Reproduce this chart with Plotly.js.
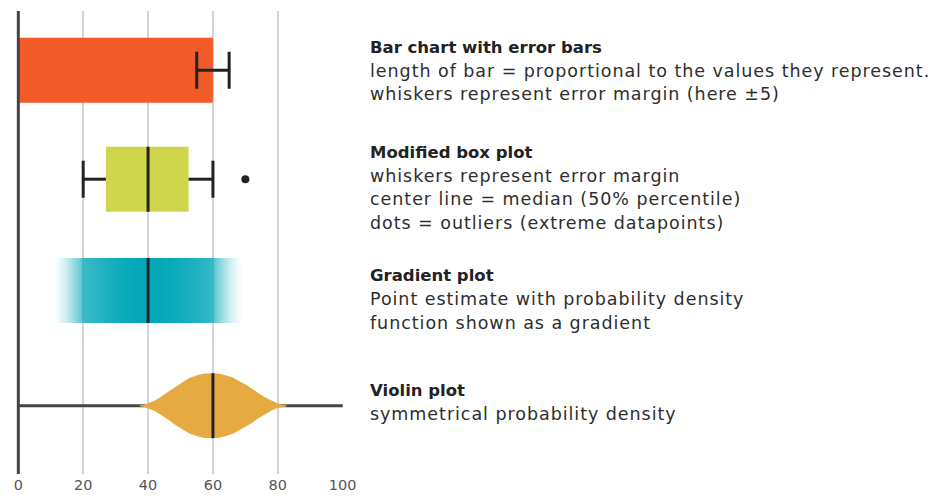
<!DOCTYPE html>
<html><head><meta charset="utf-8">
<script src="https://cdn.plot.ly/plotly-3.0.1.min.js"></script>
<style>html,body{margin:0;padding:0;background:#fff}#chart{width:947px;height:501px}</style>
</head><body><div id="chart"></div>
<script>
// ---- data ----
const barValue = 60;
const barError = 5;
const boxLowerWhisker = 20;
const boxQ1 = 27;
const boxMedian = 40;
const boxQ3 = 52.5;
const boxUpperWhisker = 60;
const boxOutliers = [70];
const gradientX = [11, 12, 14, 16, 18, 19.5, 20.5, 24, 28, 32, 36, 40, 44, 48, 52, 56, 59.5, 60.5, 62, 64, 66, 68, 69];
const gradientDensity = [0, 0.04, 0.15, 0.3, 0.48, 0.62, 0.78, 0.84, 0.9, 0.96, 0.99, 1, 0.99, 0.96, 0.92, 0.86, 0.8, 0.64, 0.48, 0.3, 0.15, 0.05, 0];
const gradientEstimate = 40;
const violinX = [37.4, 39, 40.5, 42.1, 43.6, 45.1, 46.7, 48.2, 49.8, 51.3, 52.9, 54.4, 55.9, 57.5, 59.3, 61.2, 62.7, 64.3, 65.8, 67.3, 68.9, 70.4, 72, 73.5, 75, 76.6, 78.1, 79.7, 81.2, 82.7];
const violinDensity = [0.015, 0.04, 0.10, 0.16, 0.25, 0.35, 0.46, 0.58, 0.68, 0.77, 0.86, 0.92, 0.96, 0.99, 1.0, 0.99, 0.97, 0.93, 0.88, 0.80, 0.72, 0.63, 0.53, 0.42, 0.32, 0.23, 0.15, 0.08, 0.04, 0.015];
const violinMedian = 60;
const violinRange = [0, 100];
const tickVals = [0, 20, 40, 60, 80, 100];
const tickText = ['0', '20', '40', '60', '80', '100'];
const titles = ['Bar chart with error bars', 'Modified box plot', 'Gradient plot', 'Violin plot'];
const descriptions = [
  ['length of bar = proportional to the values they represent.', 'whiskers represent error margin (here ±5)'],
  ['whiskers represent error margin', 'center line = median (50% percentile)', 'dots = outliers (extreme datapoints)'],
  ['Point estimate with probability density', 'function shown as a gradient'],
  ['symmetrical probability density']
];

// ---- layout constants (pixel-like y units: 1 unit = 1px) ----
const PLOT_H = 463;
const rowY = [403.8, 294.8, 183.5, 68.3];
const halfH = 32.5;
const capHalf = 18.5;
const dark = '#222';
const textBaseline = [53, 158.3, 281.7, 396.7]; // px from top
const lineStep = 23.5;
const X_RANGE = [-0.1, 100.1];
const PX_PER_UNIT = 3.245;

const traces = [];
// gradient plot
const gxMin = Math.min(...gradientX), gxMax = Math.max(...gradientX);
traces.push({
  type: 'scatter', mode: 'lines', hoverinfo: 'skip',
  x: [gxMin, gxMax, gxMax, gxMin, gxMin],
  y: [rowY[2] - halfH, rowY[2] - halfH, rowY[2] + halfH, rowY[2] + halfH, rowY[2] - halfH],
  fill: 'toself', line: {width: 0, color: 'rgba(0,0,0,0)'},
  fillgradient: {
    type: 'horizontal',
    colorscale: gradientX.map((v, i) => [(v - gxMin) / (gxMax - gxMin), 'rgba(2,167,184,' + gradientDensity[i] + ')'])
  }
});
// bar with error bar
traces.push({
  type: 'bar', orientation: 'h', x: [barValue], y: [rowY[0]], width: 2 * halfH,
  marker: {color: '#f15a29', line: {width: 0}},
  error_x: {type: 'data', array: [barError], symmetric: true, color: dark, thickness: 3, width: capHalf}
});
// box body
traces.push({
  type: 'bar', orientation: 'h', base: [boxQ1], x: [boxQ3 - boxQ1], y: [rowY[1]], width: 2 * halfH,
  marker: {color: '#d0d64b', line: {width: 0}}
});
// whiskers
traces.push({
  type: 'scatter', mode: 'lines', x: [boxLowerWhisker, boxQ1, null, boxQ3, boxUpperWhisker],
  y: [rowY[1], rowY[1], null, rowY[1], rowY[1]], line: {color: dark, width: 3}
});
// whisker caps
traces.push({
  type: 'scatter', mode: 'markers', x: [boxLowerWhisker, boxUpperWhisker], y: [rowY[1], rowY[1]],
  marker: {size: 1, color: 'rgba(0,0,0,0)'},
  error_y: {type: 'constant', value: capHalf, color: dark, thickness: 3, width: 0}
});
// medians (box, gradient estimate)
traces.push({
  type: 'scatter', mode: 'markers', x: [boxMedian, gradientEstimate], y: [rowY[1], rowY[2]],
  marker: {size: 1, color: 'rgba(0,0,0,0)'},
  error_y: {type: 'constant', value: halfH, color: dark, thickness: 3, width: 0}
});
// outliers
traces.push({
  type: 'scatter', mode: 'markers', x: boxOutliers, y: boxOutliers.map(() => rowY[1]),
  marker: {size: 8, color: dark}
});
// violin base line
traces.push({
  type: 'scatter', mode: 'lines', x: violinRange, y: [rowY[3], rowY[3]], line: {color: '#444', width: 3}
});
// violin body
traces.push({
  type: 'scatter', mode: 'lines', fill: 'toself', fillcolor: '#e5ab42', line: {width: 0, color: '#e5ab42'},
  x: violinX.concat(violinX.slice().reverse()),
  y: violinDensity.map(d => rowY[3] + d * halfH).concat(violinDensity.slice().reverse().map(d => rowY[3] - d * halfH))
});
traces.push({
  type: 'scatter', mode: 'markers', x: [violinMedian], y: [rowY[3]],
  marker: {size: 1, color: 'rgba(0,0,0,0)'},
  error_y: {type: 'constant', value: halfH, color: dark, thickness: 3, width: 0}
});

const annotations = [];
const plotTop = 11, plotBottom = 474;
function pxToY(px) { return plotBottom - px; }
titles.forEach((t, i) => {
  const lines = [t].concat(descriptions[i]);
  lines.forEach((ln, j) => {
    const base = textBaseline[i] + j * lineStep;
    annotations.push({
      xref: 'paper', yref: 'y', x: 1.0755, y: pxToY(base - 6), xanchor: 'left', yanchor: 'middle',
      showarrow: false,
      text: j === 0 ? '<b>' + ln + '</b>' : '<span style="letter-spacing:0.95px">' + ln + '</span>',
      font: j === 0 ? {family: 'DejaVu Sans', size: 16.5, color: '#222'} : {family: 'DejaVu Sans', size: 17.5, color: '#2e2e2e'}
    });
  });
});

const leftPx = 18.5 + X_RANGE[0] * PX_PER_UNIT;
const rightPx = 18.5 + X_RANGE[1] * PX_PER_UNIT;
const layout = {
  width: 947, height: 501,
  margin: {l: leftPx, r: 947 - rightPx, t: plotTop, b: 501 - plotBottom, pad: 0},
  paper_bgcolor: '#fff', plot_bgcolor: '#fff',
  showlegend: false, barmode: 'overlay',
  xaxis: {range: X_RANGE, tickvals: tickVals, ticktext: tickText, showgrid: true, gridcolor: '#d4d4d4', gridwidth: 2,
          zeroline: false, showline: false, ticks: '', ticklabelstandoff: 7.5,
          tickfont: {family: 'DejaVu Sans', size: 14.5, color: '#555'}, fixedrange: true},
  yaxis: {range: [0, PLOT_H], visible: false, fixedrange: true},
  shapes: [{type: 'line', xref: 'paper', yref: 'paper',
            x0: (0 - X_RANGE[0]) / (X_RANGE[1] - X_RANGE[0]), x1: (0 - X_RANGE[0]) / (X_RANGE[1] - X_RANGE[0]),
            y0: 0, y1: 1, line: {color: '#444', width: 3}, layer: 'above'}],
  annotations: annotations
};
Plotly.newPlot('chart', traces, layout, {displayModeBar: false, staticPlot: true});
</script></body></html>
